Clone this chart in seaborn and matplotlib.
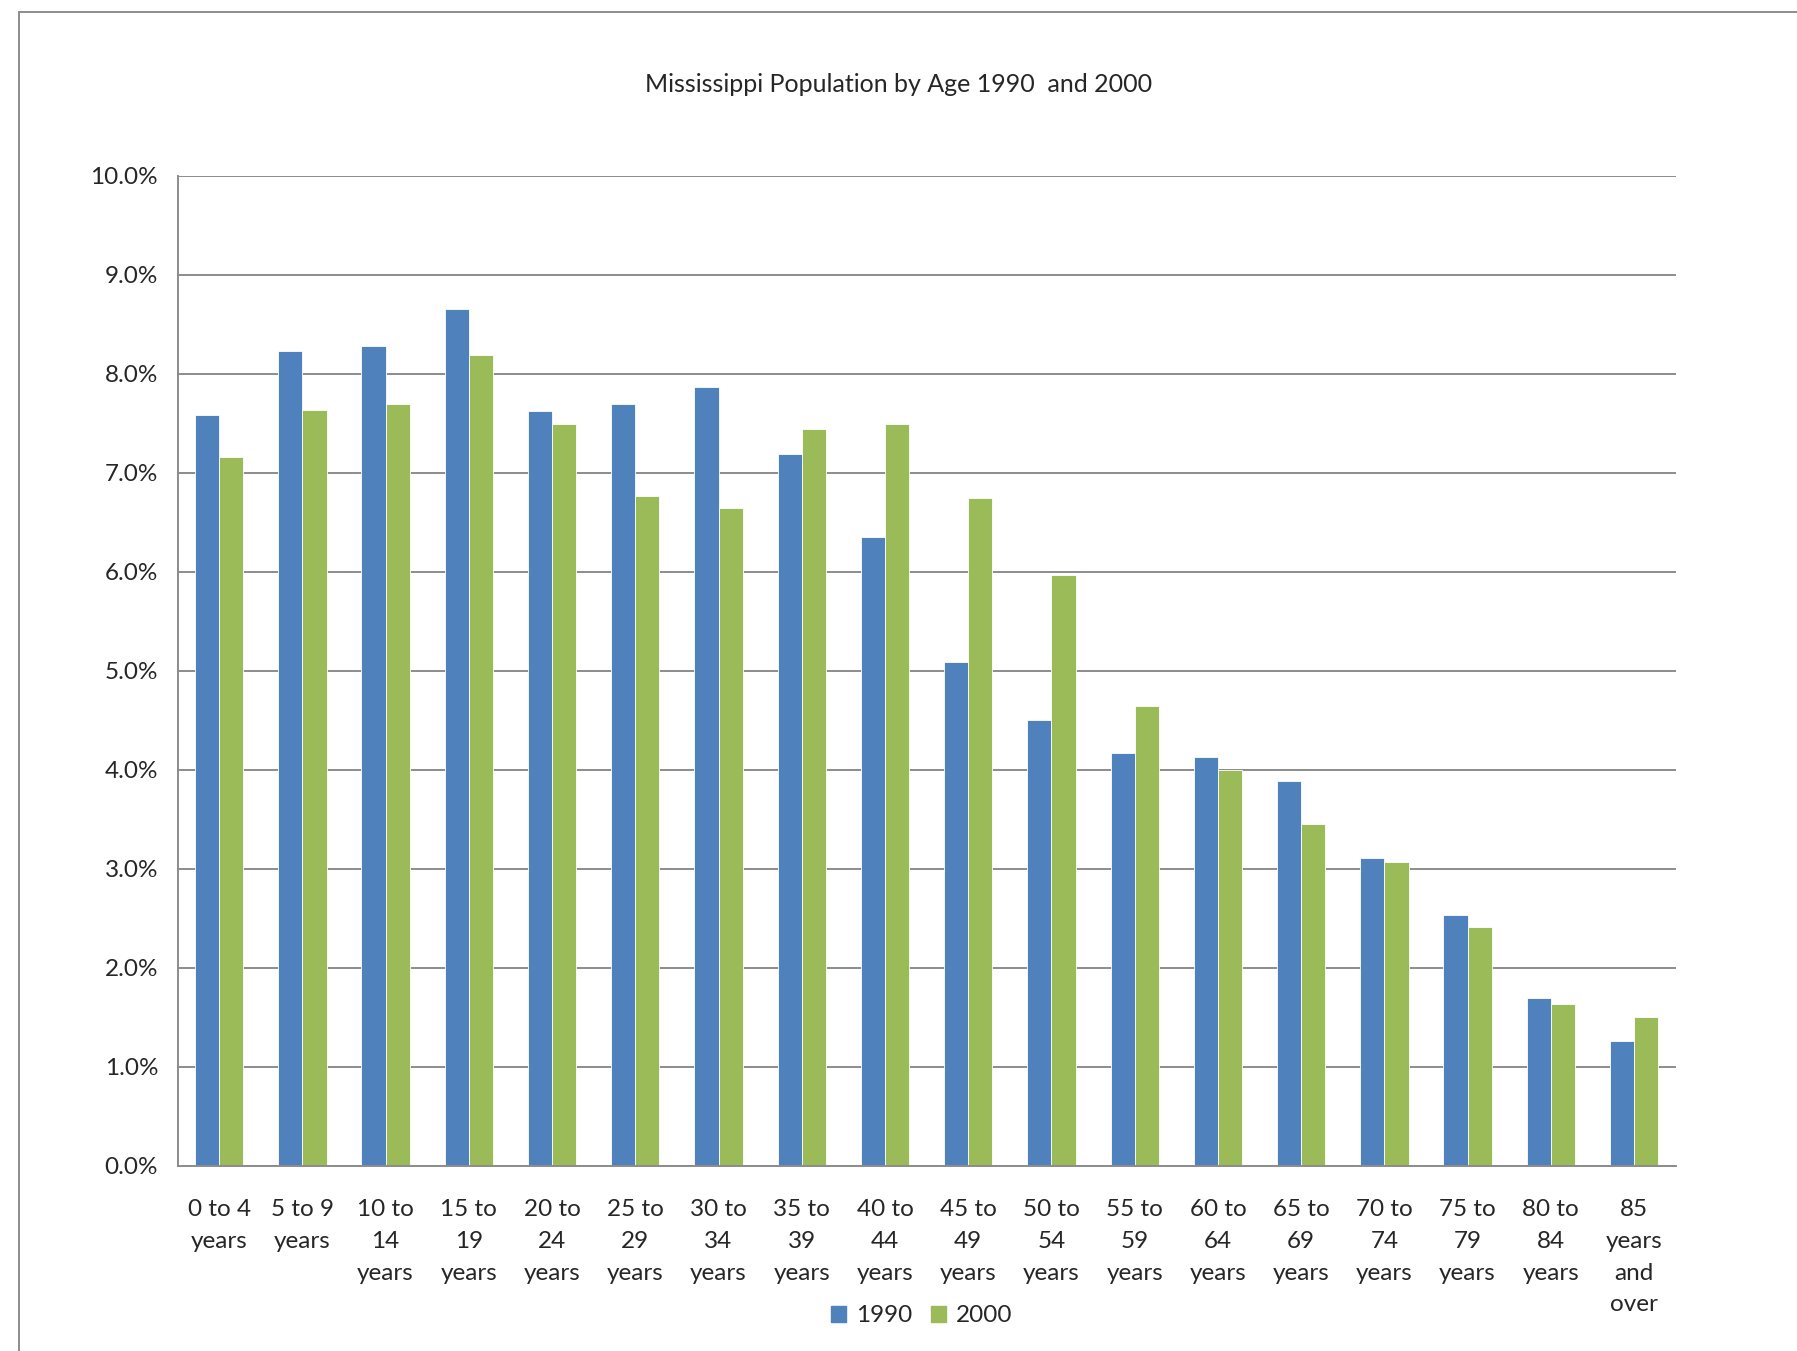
import pandas as pd
import matplotlib.pyplot as plt
import seaborn as sns
from matplotlib.lines import Line2D
from matplotlib.ticker import FuncFormatter

# age groups and share of population (%)
age_groups = ['0 to 4\nyears', '5 to 9\nyears', '10 to\n14\nyears', '15 to\n19\nyears',
              '20 to\n24\nyears', '25 to\n29\nyears', '30 to\n34\nyears', '35 to\n39\nyears',
              '40 to\n44\nyears', '45 to\n49\nyears', '50 to\n54\nyears', '55 to\n59\nyears',
              '60 to\n64\nyears', '65 to\n69\nyears', '70 to\n74\nyears', '75 to\n79\nyears',
              '80 to\n84\nyears', '85\nyears\nand\nover']
pct_1990 = [7.58, 8.23, 8.28, 8.65, 7.62, 7.69, 7.86, 7.19, 6.35,
            5.09, 4.50, 4.17, 4.13, 3.88, 3.11, 2.53, 1.69, 1.26]
pct_2000 = [7.16, 7.63, 7.69, 8.19, 7.49, 6.76, 6.64, 7.44, 7.49,
            6.74, 5.97, 4.64, 4.00, 3.45, 3.07, 2.41, 1.63, 1.50]
years = ['1990', '2000']
colors = ['#4F81BD', '#9BBB59']

df = pd.DataFrame({
    'age': age_groups * 2,
    'year': [years[0]] * len(age_groups) + [years[1]] * len(age_groups),
    'pct': pct_1990 + pct_2000,
})

sns.set_style('white')
plt.rcParams['font.family'] = ['Lato', 'DejaVu Sans']

fig = plt.figure(figsize=(17.97, 13.51), dpi=100)
ax = fig.add_axes([0.0988, 0.1373, 0.8337, 0.7327])

sns.barplot(df, x='age', y='pct', hue='year', palette=colors, width=0.58,
            gap=0, saturation=1, edgecolor='white', linewidth=0.6, ax=ax)

ax.set_ylim(0, 10)
ax.set_xlim(-0.5, len(age_groups) - 0.5)
ax.set_yticks(range(0, 11))
ax.yaxis.set_major_formatter(FuncFormatter(lambda v, p: f'{v:.1f}%'))
ax.yaxis.grid(True, color='#8c8c8c', linewidth=1.4)
ax.set_axisbelow(True)
ax.set_xlabel('')
ax.set_ylabel('')

for side in ['top', 'right']:
    ax.spines[side].set_visible(False)
for side in ['left', 'bottom']:
    ax.spines[side].set_color('#8c8c8c')
    ax.spines[side].set_linewidth(1.4)

# tick marks sit between the categories
ax.set_xticks([i - 0.5 for i in range(len(age_groups) + 1)], minor=True)
ax.tick_params(axis='x', which='major', length=0, pad=24, labelsize=17.5)
ax.tick_params(axis='x', which='minor', length=6, width=1.4, color='#8c8c8c', direction='out')
ax.tick_params(axis='y', length=6, width=1.4, color='#8c8c8c', direction='out', pad=8, labelsize=17.5)
for lab in ax.get_xticklabels():
    lab.set_linespacing(1.64)
    lab.set_multialignment('center')

fig.suptitle('Mississippi Population by Age 1990  and 2000', y=0.946, fontsize=18)

ax.legend_.remove()
handles = [plt.Rectangle((0, 0), 1, 1, color=c) for c in colors]
fig.legend(handles, years, loc='center', bbox_to_anchor=(0.513, 0.026), ncol=2,
           frameon=False, fontsize=17.5, handlelength=0.6, handleheight=0.6,
           handletextpad=0.4, columnspacing=0.8)

# chart area border (top and left edges visible)
fig.add_artist(Line2D([0.0108, 0.0108], [0, 0.9913], transform=fig.transFigure,
                      color='#8c8c8c', linewidth=1.4))
fig.add_artist(Line2D([0.0108, 1], [0.9913, 0.9913], transform=fig.transFigure,
                      color='#8c8c8c', linewidth=1.4))

fig.savefig('out.png', dpi=100, facecolor='white')
